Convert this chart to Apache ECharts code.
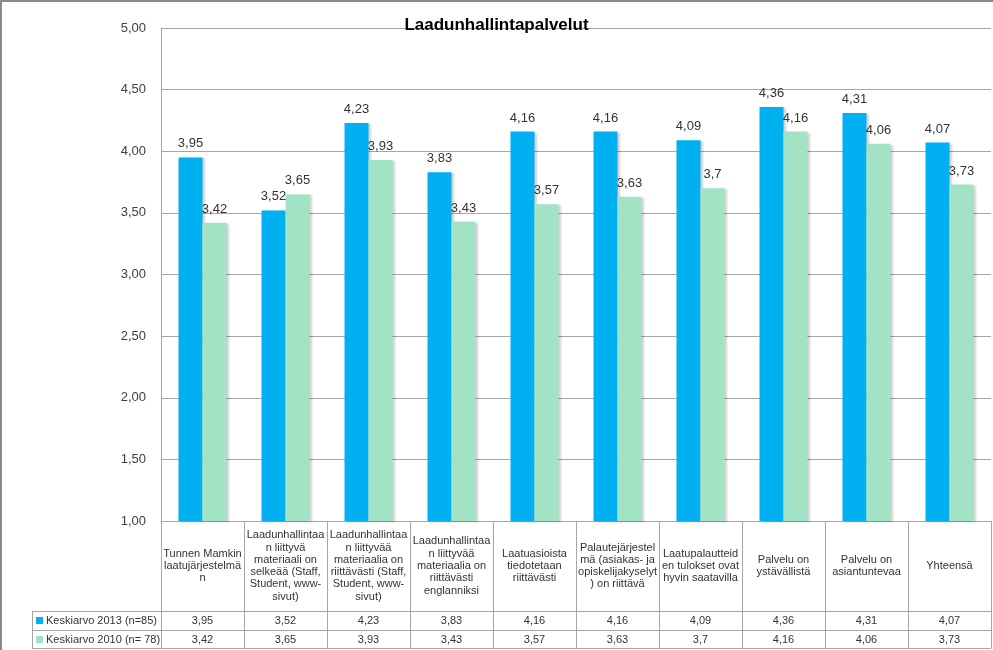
<!DOCTYPE html>
<html>
<head>
<meta charset="utf-8">
<script src="https://cdn.jsdelivr.net/npm/echarts@6/dist/echarts.min.js"></script>
<style>
html,body{margin:0;padding:0;background:#fff;}
#c{position:absolute;left:0;top:0;width:993px;height:650px;}
#frame{position:absolute;left:0;top:0;width:993px;height:650px;box-sizing:border-box;border-top:2px solid #8a8a8a;border-left:2px solid #8a8a8a;pointer-events:none;}
</style>
</head>
<body>
<div id="c"></div>
<div id="frame"></div>
<script>
const title = 'Laadunhallintapalvelut';
const categories = [
  'Tunnen Mamkin\nlaatujärjestelmä\nn',
  'Laadunhallintaa\nn liittyvä\nmateriaali on\nselkeää (Staff,\nStudent, www-\nsivut)',
  'Laadunhallintaa\nn liittyvää\nmateriaalia on\nriittävästi (Staff,\nStudent, www-\nsivut)',
  'Laadunhallintaa\nn liittyvää\nmateriaalia on\nriittävästi\nenglanniksi',
  'Laatuasioista\ntiedotetaan\nriittävästi',
  'Palautejärjestel\nmä (asiakas- ja\nopiskelijakyselyt\n) on riittävä',
  'Laatupalautteid\nen tulokset ovat\nhyvin saatavilla',
  'Palvelu on\nystävällistä',
  'Palvelu on\nasiantuntevaa',
  'Yhteensä'
];
const seriesNames = ['Keskiarvo 2013 (n=85)', 'Keskiarvo 2010 (n= 78)'];
const values2013 = [3.95, 3.52, 4.23, 3.83, 4.16, 4.16, 4.09, 4.36, 4.31, 4.07];
const values2010 = [3.42, 3.65, 3.93, 3.43, 3.57, 3.63, 3.7, 4.16, 4.06, 3.73];
const yTicks = {min: 1, max: 5, interval: 0.5};

const fi = v => String(v).replace('.', ',');
const FONT = '"Liberation Sans", Arial, sans-serif';
const LINE = '#a6a6a6';

const chart = echarts.init(document.getElementById('c'), null, {renderer: 'canvas'});

function tableAxis(offset, vals) {
  return {
    type: 'category', data: categories, gridIndex: 0, position: 'bottom', offset: offset,
    axisLine: {show: true, lineStyle: {color: LINE, width: 1}},
    axisTick: {show: false},
    splitLine: {show: false},
    axisLabel: vals ? {
      show: true, interval: 0, margin: 9.5, verticalAlign: 'middle',
      fontFamily: FONT, fontSize: 11, color: '#333',
      formatter: (v, i) => fi(vals[i])
    } : {show: false}
  };
}

chart.setOption({
  animation: false,
  backgroundColor: '#fff',
  title: {
    text: title, left: 'center', top: 12,
    textStyle: {fontFamily: FONT, fontSize: 17, fontWeight: 'bold', color: '#000'}
  },
  legend: {
    orient: 'vertical', left: 36, top: 614, padding: 0, itemWidth: 7, itemHeight: 7, itemGap: 6,
    height: 40, icon: 'rect', selectedMode: false,
    textStyle: {fontFamily: FONT, fontSize: 11, color: '#333', lineHeight: 13, padding: [0, 0, 0, -2]},
    data: seriesNames
  },
  grid: {left: 161, right: 2, top: 28, bottom: 129, containLabel: false},
  yAxis: {
    type: 'value', min: yTicks.min, max: yTicks.max, interval: yTicks.interval,
    axisLine: {show: true, lineStyle: {color: LINE}},
    axisTick: {show: false},
    splitLine: {show: true, lineStyle: {color: LINE, width: 1}},
    axisLabel: {
      margin: 15, fontFamily: FONT, fontSize: 13, color: '#404040',
      formatter: v => v.toFixed(2).replace('.', ',')
    }
  },
  xAxis: [
    {
      type: 'category', data: categories, gridIndex: 0,
      axisLine: {show: true, lineStyle: {color: LINE, width: 1}},
      axisTick: {show: true, length: 127, alignWithLabel: false, lineStyle: {color: LINE}},
      axisLabel: {
        interval: 0, margin: 45, verticalAlign: 'middle', align: 'center',
        fontFamily: FONT, fontSize: 11, lineHeight: 12.3, color: '#333'
      }
    },
    tableAxis(90, values2013),
    tableAxis(109, values2010),
    tableAxis(127, null)
  ],
  graphic: [
    {type: 'line', shape: {x1: 32, y1: 611.5, x2: 161, y2: 611.5}, style: {stroke: LINE, lineWidth: 1}},
    {type: 'line', shape: {x1: 32, y1: 630.5, x2: 161, y2: 630.5}, style: {stroke: LINE, lineWidth: 1}},
    {type: 'line', shape: {x1: 32, y1: 648.5, x2: 161, y2: 648.5}, style: {stroke: LINE, lineWidth: 1}},
    {type: 'line', shape: {x1: 32.5, y1: 611, x2: 32.5, y2: 649}, style: {stroke: LINE, lineWidth: 1}}
  ],
  series: [
    {
      name: seriesNames[0], type: 'bar', data: values2013, barWidth: 24, barGap: '0%',
      itemStyle: {color: '#00b0f0', shadowColor: 'rgba(0,0,0,0.18)', shadowBlur: 2, shadowOffsetX: 2, shadowOffsetY: 1},
      label: {show: true, position: 'top', distance: 7, fontFamily: FONT, fontSize: 13, color: '#333', formatter: p => fi(p.value)}
    },
    {
      name: seriesNames[1], type: 'bar', data: values2010, barWidth: 24, barGap: '0%',
      itemStyle: {color: '#a3e3c5', shadowColor: 'rgba(0,0,0,0.18)', shadowBlur: 2, shadowOffsetX: 2, shadowOffsetY: 1},
      label: {show: true, position: 'top', distance: 7, fontFamily: FONT, fontSize: 13, color: '#333', formatter: p => fi(p.value)}
    }
  ]
});
</script>
</body>
</html>
